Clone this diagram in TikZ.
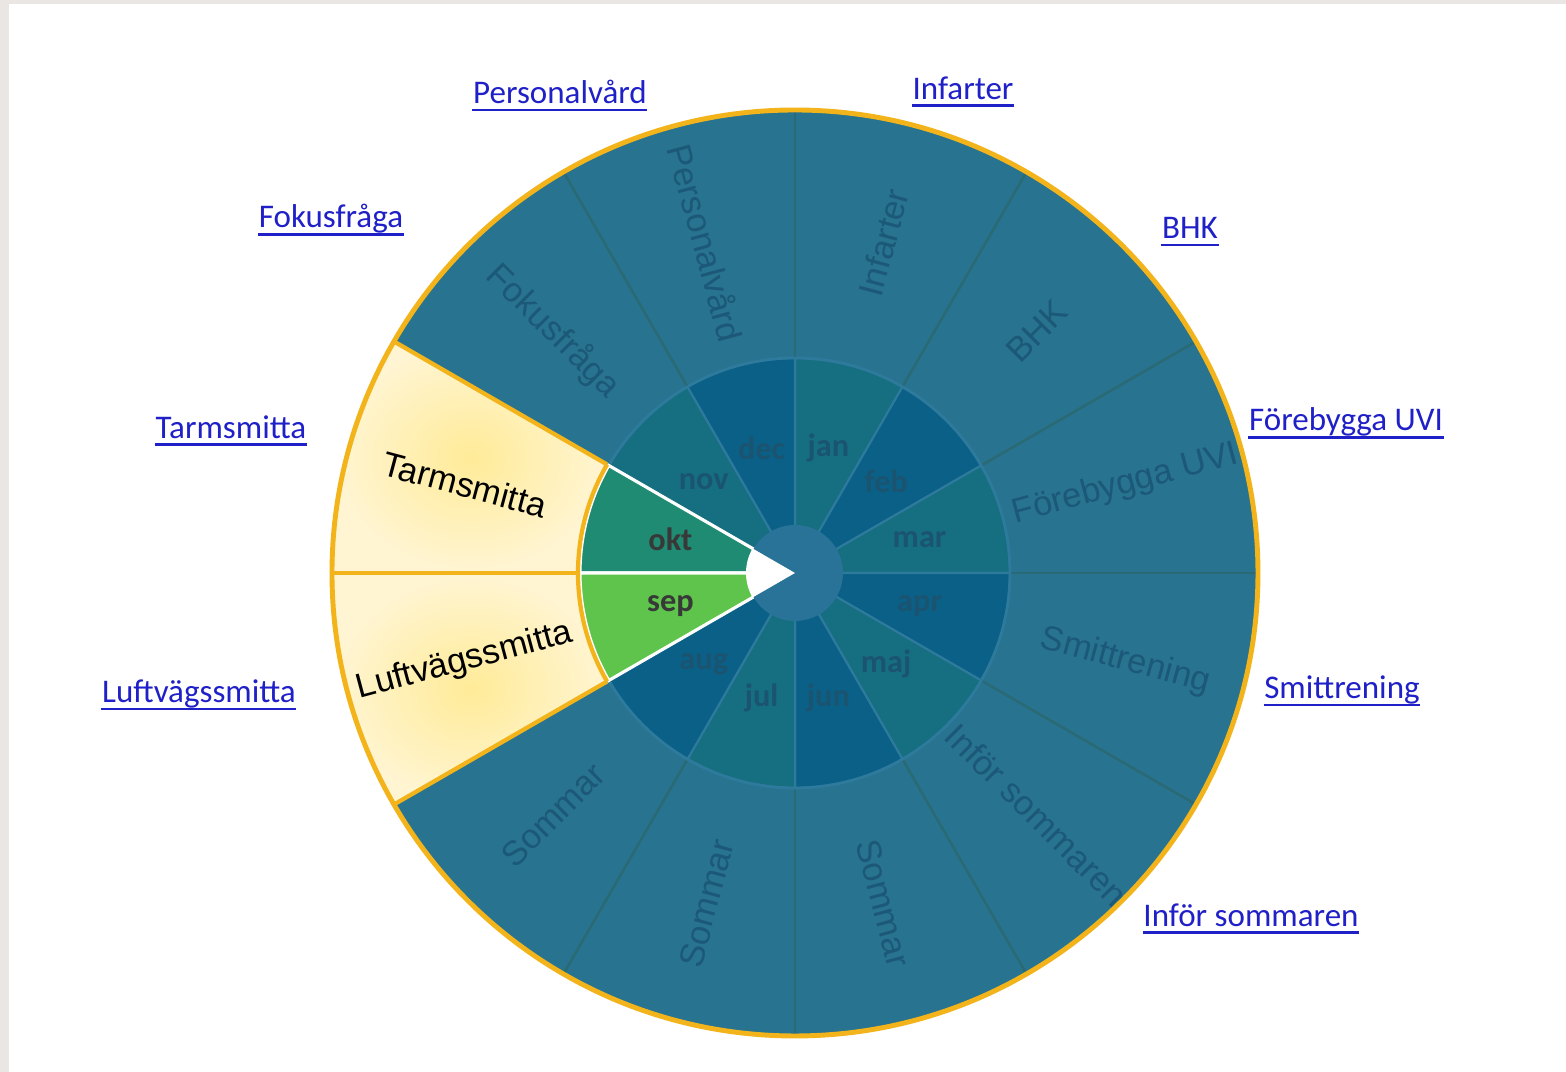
\documentclass[tikz,border=0pt]{standalone}
\usepackage{fontspec}
\usepackage{tikz}
\usetikzlibrary{calc}
\setmainfont{Liberation Sans}
\newfontfamily\linkfont{Carlito}

\definecolor{pagegray}{HTML}{E9E6E3}
\definecolor{ringblue}{HTML}{28738F}
\definecolor{monthteal}{HTML}{166F80}
\definecolor{monthblue}{HTML}{0B6088}
\definecolor{hubblue}{HTML}{2A7398}
\definecolor{segtext}{HTML}{1C5878}
\definecolor{monthtext}{HTML}{1A5470}
\definecolor{oktgreen}{HTML}{1E8B72}
\definecolor{sepgreen}{HTML}{5EC44B}
\definecolor{rimyellow}{HTML}{F2B41A}
\definecolor{paleyellow}{HTML}{FFF5D3}
\definecolor{warmyellow}{HTML}{FFEB98}
\definecolor{linkblue}{HTML}{2020C8}
\definecolor{outerdiv}{HTML}{2A6A74}
\definecolor{innerdiv}{HTML}{2E7A9C}

\tikzset{
  monthcell/.style={draw=innerdiv, line width=0.6pt},
  pickcell/.style={draw=white, line width=0.9pt},
  divline/.style={outerdiv, line width=0.7pt},
  rimline/.style={rimyellow, line width=1.2pt},
  seglabel/.style={text=segtext, font=\fontsize{9.8}{11}\selectfont, inner sep=0pt},
  picklabel/.style={text=black, font=\fontsize{9.8}{11}\selectfont, inner sep=0pt},
  monthlabel/.style={text=monthtext, font=\linkfont\bfseries\fontsize{9.2}{10}\selectfont, inner sep=0pt},
  linklabel/.style={text=linkblue, font=\linkfont\fontsize{9.4}{11}\selectfont, inner sep=0pt},
  linkrule/.style={linkblue, line width=0.8pt}
}
\newcommand{\linkunder}[1]{\draw[linkrule] ($(#1.base west)+(0,-0.065)$) -- ($(#1.base east)+(0,-0.065)$);}

\begin{document}
\begin{tikzpicture}
\useasboundingbox (-7.95,-4.99) rectangle (7.71,5.73);
\fill[pagegray] (-7.95,-4.99) rectangle (7.71,5.73);
\fill[white] (-7.86,-4.99) rectangle (7.71,5.69);

%%% outer ring

\fill[ringblue] (0,0) circle (4.62);

% picked: okt, sep
\shade[inner color=warmyellow, outer color=paleyellow] (150:2.15) arc[start angle=150, end angle=180, radius=2.15] -- (180:4.62) arc[start angle=180, end angle=150, radius=4.62] -- cycle;
\shade[inner color=warmyellow, outer color=paleyellow] (180:2.15) arc[start angle=180, end angle=210, radius=2.15] -- (210:4.62) arc[start angle=210, end angle=180, radius=4.62] -- cycle;

% dividers
\draw[divline] (0:2.15) -- (0:4.62);
\draw[divline] (30:2.15) -- (30:4.62);
\draw[divline] (60:2.15) -- (60:4.62);
\draw[divline] (90:2.15) -- (90:4.62);
\draw[divline] (120:2.15) -- (120:4.62);
\draw[divline] (240:2.15) -- (240:4.62);
\draw[divline] (270:2.15) -- (270:4.62);
\draw[divline] (300:2.15) -- (300:4.62);
\draw[divline] (330:2.15) -- (330:4.62);

%%% months

\filldraw[monthcell, fill=monthteal] (0,0) -- (60:2.15) arc[start angle=60, end angle=90, radius=2.15] -- cycle;
\filldraw[monthcell, fill=monthblue] (0,0) -- (30:2.15) arc[start angle=30, end angle=60, radius=2.15] -- cycle;
\filldraw[monthcell, fill=monthteal] (0,0) -- (0:2.15) arc[start angle=0, end angle=30, radius=2.15] -- cycle;
\filldraw[monthcell, fill=monthblue] (0,0) -- (-30:2.15) arc[start angle=-30, end angle=0, radius=2.15] -- cycle;
\filldraw[monthcell, fill=monthteal] (0,0) -- (-60:2.15) arc[start angle=-60, end angle=-30, radius=2.15] -- cycle;
\filldraw[monthcell, fill=monthblue] (0,0) -- (-90:2.15) arc[start angle=-90, end angle=-60, radius=2.15] -- cycle;
\filldraw[monthcell, fill=monthteal] (0,0) -- (-120:2.15) arc[start angle=-120, end angle=-90, radius=2.15] -- cycle;
\filldraw[monthcell, fill=monthblue] (0,0) -- (-150:2.15) arc[start angle=-150, end angle=-120, radius=2.15] -- cycle;
\filldraw[monthcell, fill=monthteal] (0,0) -- (120:2.15) arc[start angle=120, end angle=150, radius=2.15] -- cycle;
\filldraw[monthcell, fill=monthblue] (0,0) -- (90:2.15) arc[start angle=90, end angle=120, radius=2.15] -- cycle;
\draw[innerdiv, line width=0.8pt] (0,0) circle (2.15);

% picked months
\filldraw[pickcell, fill=oktgreen] (0,0) -- (150:2.15) arc[start angle=150, end angle=180, radius=2.15] -- cycle;
\filldraw[pickcell, fill=sepgreen] (0,0) -- (180:2.15) arc[start angle=180, end angle=210, radius=2.15] -- cycle;

% hub
\fill[hubblue] (0,0) circle (0.48);
\fill[white] (0,0) -- (150:0.49) arc[start angle=150, end angle=210, radius=0.49] -- cycle;

% rim
\draw[rimline] (150:2.17) -- (150:4.62);
\draw[rimline] (180:2.17) -- (180:4.62);
\draw[rimline] (210:2.17) -- (210:4.62);
\draw[rimline] (150:2.17) arc[start angle=150, end angle=210, radius=2.17];
\draw[rimline, line width=1.4pt] (0,0) circle (4.63);

%%% labels

% months
\node[monthlabel] (jan) at (75:1.29) {jan};
\node[monthlabel] (feb) at (45:1.29) {feb};
\node[monthlabel] (mar) at (15:1.29) {mar};
\node[monthlabel] (apr) at (-15:1.29) {apr};
\node[monthlabel] (maj) at (-45:1.29) {maj};
\node[monthlabel] (jun) at (-75:1.29) {jun};
\node[monthlabel] (jul) at (-105:1.29) {jul};
\node[monthlabel] (aug) at (-135:1.29) {aug};
\node[monthlabel, text=black!78] (sep) at (-165:1.29) {sep};
\node[monthlabel, text=black!78] (okt) at (165:1.29) {okt};
\node[monthlabel] (nov) at (135:1.29) {nov};
\node[monthlabel] (dec) at (105:1.29) {dec};

% segments
\node[seglabel, rotate=75] (infarter) at (75:3.42) {Infarter};
\node[seglabel, rotate=45] (bhk) at (45:3.42) {BHK};
\node[seglabel, rotate=15] (uvi) at (15:3.42) {Förebygga UVI};
\node[seglabel, rotate=-15] (smitt) at (-15:3.42) {Smittrening};
\node[seglabel, rotate=-45] (infor) at (-45:3.42) {Inför sommaren};
\node[seglabel, rotate=-75] (sommarA) at (-75:3.42) {Sommar};
\node[seglabel, rotate=75] (sommarB) at (-105:3.42) {Sommar};
\node[seglabel, rotate=45] (sommarC) at (-135:3.42) {Sommar};
\node[picklabel, rotate=15] (luft) at (-165:3.42) {Luftvägssmitta};
\node[picklabel, rotate=-15] (tarm) at (165:3.42) {Tarmsmitta};
\node[seglabel, rotate=-45] (fokus) at (135:3.42) {Fokusfråga};
\node[seglabel, rotate=-75] (personal) at (105:3.42) {Personalvård};

% links
\node[linklabel] (lnkpersonal) at (-2.35,4.81) {Personalvård};
\node[linklabel] (lnkinfarter) at (1.68,4.85) {Infarter};
\node[linklabel] (lnkbhk) at (3.95,3.45) {BHK};
\node[linklabel] (lnkuvi) at (5.51,1.51) {Förebygga UVI};
\node[linklabel] (lnksmitt) at (5.47,-1.17) {Smittrening};
\node[linklabel] (lnkinfor) at (4.56,-3.42) {Inför sommaren};
\node[linklabel] (lnkluft) at (-5.96,-1.21) {Luftvägssmitta};
\node[linklabel] (lnktarm) at (-5.64,1.46) {Tarmsmitta};
\node[linklabel] (lnkfokus) at (-4.64,3.54) {Fokusfråga};
\linkunder{lnkpersonal}
\linkunder{lnkinfarter}
\linkunder{lnkbhk}
\linkunder{lnkuvi}
\linkunder{lnksmitt}
\linkunder{lnkinfor}
\linkunder{lnkluft}
\linkunder{lnktarm}
\linkunder{lnkfokus}

\end{tikzpicture}
\end{document}
